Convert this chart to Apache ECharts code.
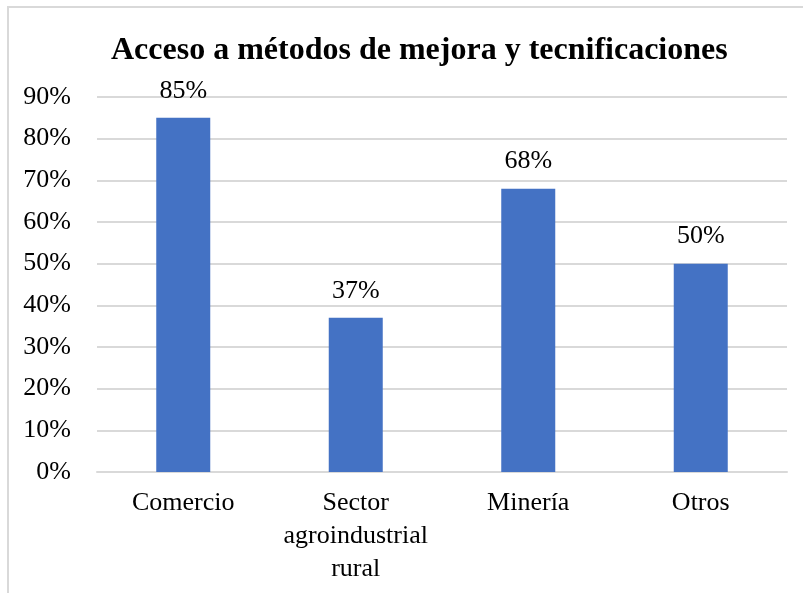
<!DOCTYPE html>
<html>
<head>
<meta charset="utf-8">
<script src="https://cdn.jsdelivr.net/npm/echarts@6/dist/echarts.min.js"></script>
<style>
  html, body { margin: 0; padding: 0; background: #fff; }
  #frame { position: absolute; left: 7px; top: 6px; width: 900px; height: 700px;
           border-left: 2px solid #d9d9d9; border-top: 2px solid #d9d9d9; box-sizing: border-box; }
  #chart { position: absolute; left: 0; top: 0; width: 803px; height: 593px; }
</style>
</head>
<body>
<div id="frame"></div>
<div id="chart"></div>
<script>
// Sectors and the share with access to improvement methods
const categories = ['Comercio', 'Sector\nagroindustrial\nrural', 'Minería', 'Otros'];
const values = [85, 37, 68, 50];
const titleText = 'Acceso a métodos de mejora y tecnificaciones';

const serif = '"Liberation Serif", "Times New Roman", serif';
const chart = echarts.init(document.getElementById('chart'));
chart.setOption({
  animation: false,
  backgroundColor: 'transparent',
  title: {
    text: titleText,
    left: 106,
    top: 30,
    textStyle: { fontFamily: serif, fontSize: 32, fontWeight: 'bold', color: '#000' }
  },
  grid: { left: 97, right: 16, top: 97, bottom: 121 },
  xAxis: {
    type: 'category',
    data: categories,
    axisLine: { show: true, lineStyle: { color: '#d9d9d9', width: 2 } },
    axisTick: { show: false },
    axisLabel: { fontFamily: serif, fontSize: 26, color: '#000', margin: 15, lineHeight: 33, interval: 0 }
  },
  yAxis: {
    type: 'value',
    min: 0, max: 90, interval: 10,
    axisLine: { show: false },
    axisTick: { show: false },
    splitLine: { lineStyle: { color: '#d9d9d9', width: 2 } },
    axisLabel: { fontFamily: serif, fontSize: 26, color: '#000', margin: 26, formatter: '{value}%' }
  },
  series: [{
    type: 'bar',
    data: values,
    barWidth: 54,
    itemStyle: { color: '#4472C4' },
    label: {
      show: true, position: 'top', distance: 14,
      fontFamily: serif, fontSize: 26, color: '#000',
      formatter: p => p.value + '%'
    }
  }]
});
</script>
</body>
</html>
